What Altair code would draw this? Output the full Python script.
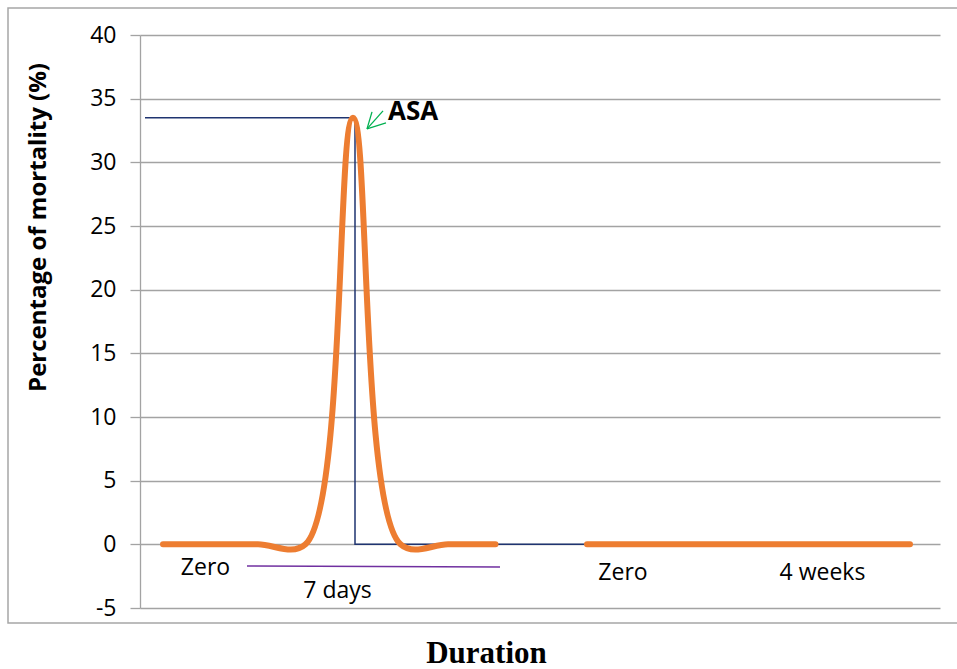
import altair as alt
import pandas as pd

# ---- data -------------------------------------------------------------
# horizontal position along the duration axis (arbitrary units, 0..800)
asa_x = [23, 70.5, 118, 165.5, 213, 260.5, 308, 355.5]
asa_y = [0, 0, 0, 0, 33.5, 0, 0, 0]

later_x = [447, 770]
later_y = [0, 0]

# reference line marking the peak value
peak_x = [5, 215, 215, 770]
peak_y = [33.5, 33.5, 0, 0]

# period labels under the curve
label_text = ["Zero", "7 days", "Zero", "4 weeks"]
label_x = [65.5, 197.5, 483, 682.5]
label_y = [-2.41, -4.22, -2.80, -2.80]

# bracket line under the first period
bracket_x = [107, 360]
bracket_y = [-1.70, -1.78]

# pointer to the peak
arrow_x = [243, 227]
arrow_y = [34.04, 32.63]
arrow_head_x = [232, 246]
arrow_head_y = [33.96, 33.10]

y_ticks = list(range(-5, 41, 5))

FONT = "Open Sans"

x_scale = alt.Scale(domain=[0, 800], nice=False, zero=False)
y_scale = alt.Scale(domain=[-5, 40], nice=False, zero=False)

x_axis = alt.Axis(
    labels=False, ticks=False, domain=False, grid=False,
    title="Duration", titleFont="Liberation Serif", titleFontSize=31,
    titleFontWeight="bold", titleColor="black",
    titleX=346, titleY=54, titleAlign="center", titleBaseline="alphabetic",
)
y_axis = alt.Axis(
    values=y_ticks, grid=True, gridColor="#a3a3a3", gridWidth=1.3,
    domainColor="#a3a3a3", domainWidth=1.3, tickColor="#a3a3a3",
    tickWidth=1.3, tickSize=10, labelFont=FONT, labelFontSize=23,
    labelColor="black", labelPadding=14, labelExpr="'' + datum.value",
    title="Percentage of mortality (%)", titleFont=FONT, titleFontSize=24,
    titleFontWeight="bold", titleColor="black", titleAngle=270,
    titleX=-102, titleY=192, titleAlign="center", titleBaseline="middle",
)

X = lambda: alt.X("x:Q", scale=x_scale, axis=x_axis)
Y = lambda: alt.Y("y:Q", scale=y_scale, axis=y_axis)

# outer frame around the chart
frame = alt.Chart(pd.DataFrame({"k": [0]})).mark_rect(
    fillOpacity=0, stroke="#a6a6a6", strokeWidth=1.5, clip=False
).encode(
    x=alt.value(-132), x2=alt.value(840), y=alt.value(-27), y2=alt.value(588)
)

peak_df = pd.DataFrame({"x": peak_x, "y": peak_y, "step": range(len(peak_x))})
peak_line = alt.Chart(peak_df).mark_line(
    color="#1f3470", strokeWidth=1.5
).encode(x=X(), y=Y(), order="step:Q")

curve_df = pd.concat([
    pd.DataFrame({"x": asa_x, "y": asa_y, "seg": "ASA"}),
    pd.DataFrame({"x": later_x, "y": later_y, "seg": "later"}),
])
curve = alt.Chart(curve_df).mark_line(
    color="#ed7d31", strokeWidth=6, strokeCap="round", strokeJoin="round",
    interpolate="catmull-rom"
).encode(x=X(), y=Y(), detail="seg:N")

bracket = alt.Chart(pd.DataFrame({
    "x": [bracket_x[0]], "y": [bracket_y[0]],
    "x2": [bracket_x[1]], "y2": [bracket_y[1]],
})).mark_rule(color="#7030a0", strokeWidth=1.3).encode(
    x=X(), y=Y(), x2="x2:Q", y2="y2:Q"
)

arrow_df = pd.DataFrame({
    "x": [arrow_x[0], arrow_x[1], arrow_x[1]],
    "y": [arrow_y[0], arrow_y[1], arrow_y[1]],
    "x2": [arrow_x[1], arrow_head_x[0], arrow_head_x[1]],
    "y2": [arrow_y[1], arrow_head_y[0], arrow_head_y[1]],
})
arrow = alt.Chart(arrow_df).mark_rule(color="#00b050", strokeWidth=1.3).encode(
    x=X(), y=Y(), x2="x2:Q", y2="y2:Q"
)

labels = alt.Chart(pd.DataFrame({
    "x": label_x, "y": label_y, "t": label_text
})).mark_text(
    font=FONT, fontSize=23, color="black", align="center", baseline="alphabetic"
).encode(x=X(), y=Y(), text="t:N")

asa_label = alt.Chart(pd.DataFrame({
    "x": [248], "y": [33.32], "t": ["ASA"]
})).mark_text(
    font=FONT, fontSize=26, fontWeight="bold", color="black",
    align="left", baseline="alphabetic"
).encode(x=X(), y=Y(), text="t:N")

chart = alt.layer(
    frame, peak_line, curve, bracket, arrow, labels, asa_label
).properties(
    width=800, height=573,
    autosize=alt.AutoSizeParams(type="none"),
    padding={"left": 140, "top": 35, "right": 17, "bottom": 61},
    background="white",
).configure_view(stroke=None)

chart.save("out.html", embed_options={"renderer": "svg", "actions": False})
